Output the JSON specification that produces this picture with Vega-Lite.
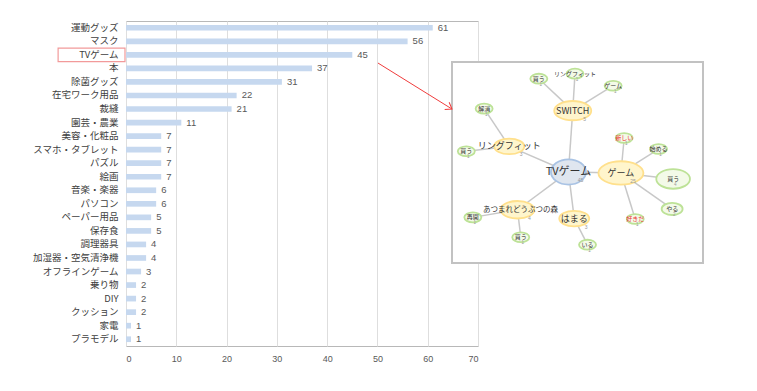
{
  "$schema": "https://vega.github.io/schema/vega-lite/v6.json",
  "autosize": "none",
  "width": 352,
  "height": 325,
  "padding": {"left": 126, "top": 21, "right": 279, "bottom": 45},
  "config": {
    "font": "Noto Sans CJK JP",
    "view": {"stroke": "#b8b8b8", "strokeWidth": 1},
    "axis": {"labelFont": "Noto Sans CJK JP", "domain": false, "ticks": false}
  },
  "datasets": {
    "bars": [
      {"item": "運動グッズ", "count": 61},
      {"item": "マスク", "count": 56},
      {"item": "TVゲーム", "count": 45},
      {"item": "本", "count": 37},
      {"item": "除菌グッズ", "count": 31},
      {"item": "在宅ワーク用品", "count": 22},
      {"item": "裁縫", "count": 21},
      {"item": "園芸・農業", "count": 11},
      {"item": "美容・化粧品", "count": 7},
      {"item": "スマホ・タブレット", "count": 7},
      {"item": "パズル", "count": 7},
      {"item": "絵画", "count": 7},
      {"item": "音楽・楽器", "count": 6},
      {"item": "パソコン", "count": 6},
      {"item": "ペーパー用品", "count": 5},
      {"item": "保存食", "count": 5},
      {"item": "調理器具", "count": 4},
      {"item": "加湿器・空気清浄機", "count": 4},
      {"item": "オフラインゲーム", "count": 3},
      {"item": "乗り物", "count": 2},
      {"item": "DIY", "count": 2},
      {"item": "クッション", "count": 2},
      {"item": "家電", "count": 1},
      {"item": "プラモデル", "count": 1}
    ],
    "nodes": [
      {"id": "tv", "label": "TVゲーム", "group": "center", "tone": "neutral", "count": 45, "lx": 46.4, "ly": 45.3},
      {"id": "game", "label": "ゲーム", "group": "hub", "tone": "neutral", "count": 25, "lx": 67.3, "ly": 44.8},
      {"id": "switch", "label": "SWITCH", "group": "hub", "tone": "neutral", "count": 5, "lx": 48.1, "ly": 75.8},
      {"id": "ring", "label": "リングフィット", "group": "hub", "tone": "neutral", "count": 3, "lx": 22.8, "ly": 58.0},
      {"id": "mori", "label": "あつまれどうぶつの森", "group": "hub", "tone": "neutral", "count": 4, "lx": 26.1, "ly": 26.5},
      {"id": "hamaru", "label": "はまる", "group": "hub", "tone": "neutral", "count": 3, "lx": 48.7, "ly": 22.1},
      {"id": "kau1", "label": "買う", "group": "leaf", "tone": "neutral", "count": 1, "lx": 34.6, "ly": 91.7},
      {"id": "ring2", "label": "リングフィット", "group": "leaf", "tone": "neutral", "count": 1, "lx": 49.0, "ly": 94.2},
      {"id": "game2", "label": "ゲーム", "group": "leaf", "tone": "neutral", "count": 1, "lx": 64.2, "ly": 88.2},
      {"id": "kaisho", "label": "解消", "group": "leaf", "tone": "neutral", "count": 1, "lx": 12.8, "ly": 76.8},
      {"id": "kau2", "label": "買う", "group": "leaf", "tone": "neutral", "count": 1, "lx": 5.7, "ly": 55.6},
      {"id": "atarashii", "label": "新しい", "group": "leaf", "tone": "positive", "count": 1, "lx": 68.6, "ly": 62.2},
      {"id": "hajimeru", "label": "始める", "group": "leaf", "tone": "neutral", "count": 1, "lx": 82.3, "ly": 56.7},
      {"id": "kau3", "label": "買う", "group": "leaf", "tone": "neutral", "count": 4, "lx": 88.1, "ly": 41.8},
      {"id": "yaru", "label": "やる", "group": "leaf", "tone": "neutral", "count": 2, "lx": 87.7, "ly": 26.9},
      {"id": "sukida", "label": "好きだ", "group": "leaf", "tone": "positive", "count": 1, "lx": 73.0, "ly": 21.9},
      {"id": "saikai", "label": "再開", "group": "leaf", "tone": "neutral", "count": 1, "lx": 8.3, "ly": 22.7},
      {"id": "kau4", "label": "買う", "group": "leaf", "tone": "neutral", "count": 1, "lx": 27.4, "ly": 12.8},
      {"id": "iru", "label": "いる", "group": "leaf", "tone": "neutral", "count": 1, "lx": 54.0, "ly": 9.1}
    ],
    "edges": [
      {"source": "tv", "target": "game"},
      {"source": "tv", "target": "switch"},
      {"source": "tv", "target": "ring"},
      {"source": "tv", "target": "mori"},
      {"source": "tv", "target": "hamaru"},
      {"source": "switch", "target": "kau1"},
      {"source": "switch", "target": "ring2"},
      {"source": "switch", "target": "game2"},
      {"source": "ring", "target": "kaisho"},
      {"source": "ring", "target": "kau2"},
      {"source": "game", "target": "atarashii"},
      {"source": "game", "target": "hajimeru"},
      {"source": "game", "target": "kau3"},
      {"source": "game", "target": "yaru"},
      {"source": "game", "target": "sukida"},
      {"source": "mori", "target": "saikai"},
      {"source": "mori", "target": "kau4"},
      {"source": "hamaru", "target": "iru"}
    ]
  },
  "layer": [
    {
      "data": {"name": "bars"},
      "layer": [
        {
          "mark": {"type": "bar", "color": "#c6d8ef", "height": {"band": 0.42}},
          "encoding": {
            "y": {"field": "item", "type": "nominal", "sort": null,
                  "scale": {"paddingInner": 0, "paddingOuter": 0},
                  "axis": {"title": null, "labelFontSize": 9.5, "labelColor": "#404040", "labelPadding": 8, "grid": false}},
            "x": {"field": "count", "type": "quantitative",
                  "scale": {"domain": [0, 70], "nice": false},
                  "axis": {"title": null, "values": [0, 10, 20, 30, 40, 50, 60, 70], "labelFontSize": 9, "labelColor": "#595959", "labelPadding": 8, "gridColor": "#dedede", "labelFont": "Liberation Sans"}}
          }
        },
        {
          "mark": {"type": "text", "align": "left", "baseline": "middle", "dx": 5, "fontSize": 9.5, "color": "#595959", "font": "Liberation Sans"},
          "encoding": {
            "y": {"field": "item", "type": "nominal", "sort": null},
            "x": {"field": "count", "type": "quantitative"},
            "text": {"field": "count", "type": "quantitative"}
          }
        },
        {
          "data": {"values": [{"item": "TVゲーム"}]},
          "mark": {"type": "rect", "fill": null, "stroke": "#f29a9a", "strokeWidth": 1.2},
          "encoding": {
            "y": {"field": "item", "type": "nominal", "sort": null},
            "x": {"datum": -13.5, "type": "quantitative"},
            "x2": {"datum": -0.2}
          }
        }
      ]
    },
    {
      "layer": [
        {
          "data": {"values": [{}]},
          "mark": {"type": "rect", "fill": "white", "stroke": "#c2c2c2", "strokeWidth": 2},
          "encoding": {
            "x": {"datum": 0, "type": "quantitative", "scale": {"domain": [0, 100], "range": [326, 577], "nice": false, "zero": false}, "axis": null},
            "x2": {"datum": 100},
            "y": {"datum": 0, "type": "quantitative", "scale": {"domain": [0, 100], "range": [242, 41], "nice": false, "zero": false}, "axis": null},
            "y2": {"datum": 100}
          }
        },
        {
          "data": {"values": [{}]},
          "mark": {"type": "rule", "color": "#f03c3c", "strokeWidth": 1},
          "encoding": {
            "x": {"datum": -29.5, "type": "quantitative"},
            "x2": {"datum": 0},
            "y": {"datum": 99.5, "type": "quantitative"},
            "y2": {"datum": 76.6}
          }
        },
        {
          "data": {"values": [{}]},
          "mark": {"type": "point", "shape": "M -1 -0.7 L 0 0 L -1 0.7", "filled": false, "stroke": "#f03c3c", "strokeWidth": 1, "size": 144, "angle": 32, "opacity": 1},
          "encoding": {
            "x": {"datum": 0, "type": "quantitative"},
            "y": {"datum": 76.6, "type": "quantitative"}
          }
        },
        {
          "data": {"name": "edges"},
          "transform": [
            {"lookup": "source", "from": {"data": {"name": "nodes"}, "key": "id", "fields": ["lx", "ly"]}, "as": ["sx", "sy"]},
            {"lookup": "target", "from": {"data": {"name": "nodes"}, "key": "id", "fields": ["lx", "ly"]}, "as": ["tx", "ty"]}
          ],
          "mark": {"type": "rule", "color": "#c8c8c8", "strokeWidth": 1.5},
          "encoding": {
            "x": {"field": "sx", "type": "quantitative"},
            "y": {"field": "sy", "type": "quantitative"},
            "x2": {"field": "tx"},
            "y2": {"field": "ty"}
          }
        },
        {
          "data": {"name": "nodes"},
          "mark": {"type": "point", "filled": true, "opacity": 1, "strokeWidth": 1.8},
          "encoding": {
            "x": {"field": "lx", "type": "quantitative"},
            "y": {"field": "ly", "type": "quantitative"},
            "shape": {"field": "group", "type": "nominal", "legend": null,
                      "scale": {"domain": ["center", "hub", "leaf"],
                                "range": ["M -1 0 A 1 0.72 0 1 1 1 0 A 1 0.72 0 1 1 -1 0 Z",
                                          "M -1 0 A 1 0.52 0 1 1 1 0 A 1 0.52 0 1 1 -1 0 Z",
                                          "M -1 0 A 1 0.58 0 1 1 1 0 A 1 0.58 0 1 1 -1 0 Z"]}},
            "size": {"field": "count", "type": "quantitative", "legend": null,
                     "scale": {"type": "linear", "zero": false, "domain": [1, 2, 3, 5, 25, 45], "range": [290, 440, 900, 1370, 2025, 1225]}},
            "fill": {"field": "group", "type": "nominal", "legend": null,
                     "scale": {"domain": ["center", "hub", "leaf"], "range": ["#dfe6ef", "#fff5cc", "#f3fae8"]}},
            "stroke": {"field": "group", "type": "nominal", "legend": null,
                       "scale": {"domain": ["center", "hub", "leaf"], "range": ["#a9c3e4", "#ffe08c", "#bde297"]}}
          }
        },
        {
          "data": {"name": "nodes"},
          "transform": [{"filter": "datum.group === 'center'"}],
          "mark": {"type": "text", "fontSize": 11, "baseline": "middle"},
          "encoding": {
            "x": {"field": "lx", "type": "quantitative"},
            "y": {"field": "ly", "type": "quantitative"},
            "text": {"field": "label"},
            "color": {"field": "tone", "type": "nominal", "legend": null,
                      "scale": {"domain": ["neutral", "positive"], "range": ["#333333", "#ee2b2b"]}}
          }
        },
        {
          "data": {"name": "nodes"},
          "transform": [{"filter": "datum.group === 'hub' && datum.id !== 'mori'"}],
          "mark": {"type": "text", "fontSize": 9, "baseline": "middle"},
          "encoding": {
            "x": {"field": "lx", "type": "quantitative"},
            "y": {"field": "ly", "type": "quantitative"},
            "text": {"field": "label"},
            "color": {"field": "tone", "type": "nominal", "legend": null}
          }
        },
        {
          "data": {"name": "nodes"},
          "transform": [{"filter": "datum.id === 'mori'"}],
          "mark": {"type": "text", "fontSize": 7.5, "baseline": "middle", "dx": 3},
          "encoding": {
            "x": {"field": "lx", "type": "quantitative"},
            "y": {"field": "ly", "type": "quantitative"},
            "text": {"field": "label"},
            "color": {"field": "tone", "type": "nominal", "legend": null}
          }
        },
        {
          "data": {"name": "nodes"},
          "transform": [{"filter": "datum.group === 'leaf'"}],
          "mark": {"type": "text", "fontSize": 6, "baseline": "middle"},
          "encoding": {
            "x": {"field": "lx", "type": "quantitative"},
            "y": {"field": "ly", "type": "quantitative"},
            "text": {"field": "label"},
            "color": {"field": "tone", "type": "nominal", "legend": null}
          }
        },
        {
          "data": {"name": "nodes"},
          "transform": [{"filter": "datum.group !== 'leaf'"}],
          "mark": {"type": "text", "fontSize": 5, "dx": 12, "dy": 8, "color": "#9a9a9a", "font": "Liberation Sans"},
          "encoding": {
            "x": {"field": "lx", "type": "quantitative"},
            "y": {"field": "ly", "type": "quantitative"},
            "text": {"field": "count", "type": "quantitative"}
          }
        },
        {
          "data": {"name": "nodes"},
          "transform": [{"filter": "datum.group === 'leaf'"}],
          "mark": {"type": "text", "fontSize": 4.5, "dx": 2, "dy": 6, "color": "#9a9a9a", "font": "Liberation Sans"},
          "encoding": {
            "x": {"field": "lx", "type": "quantitative"},
            "y": {"field": "ly", "type": "quantitative"},
            "text": {"field": "count", "type": "quantitative"}
          }
        }
      ]
    }
  ],
  "resolve": {"scale": {"x": "independent", "y": "independent"}}
}
